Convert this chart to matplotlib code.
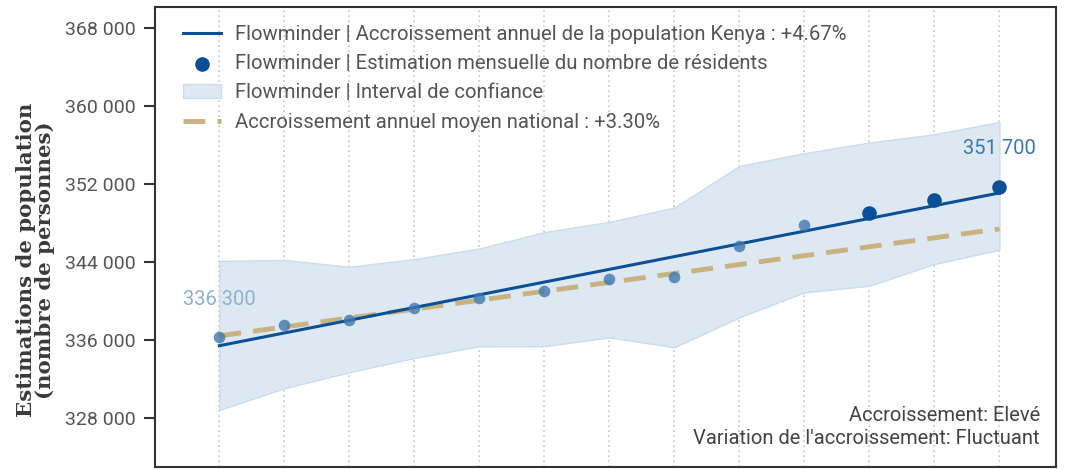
import matplotlib
matplotlib.use("Agg")
import matplotlib.pyplot as plt
from matplotlib.ticker import FuncFormatter

# Monthly resident estimates (13 months) and confidence interval
months = list(range(13))
estimates = [336300, 337560, 338080, 339270, 340270, 341010, 342240,
             342410, 345650, 347800, 348960, 350320, 351700]
ci_upper = [344100, 344200, 343500, 344290, 345380, 347050, 348100,
            349570, 353830, 355130, 356220, 357070, 358330]
ci_lower = [328840, 331060, 332700, 334160, 335360, 335370, 336270,
            335250, 338320, 340880, 341560, 343780, 345240]

# Fitted annual growth line (start / end) and national average line
trend_x = [0, 12]
trend_vals = [335420, 351060]
national_x = [0, 12]
national_vals = [336430, 347380]

y_ticks = [328000, 336000, 344000, 352000, 360000, 368000]

label_trend = "Flowminder | Accroissement annuel de la population Kenya : +4.67%"
label_points = "Flowminder | Estimation mensuelle du nombre de résidents"
label_ci = "Flowminder | Interval de confiance"
label_nat = "Accroissement annuel moyen national : +3.30%"

plt.rcParams['font.family'] = ['Roboto', 'DejaVu Sans']

fig = plt.figure(figsize=(10.67, 4.69), dpi=100)
ax = fig.add_axes([155 / 1067, 2 / 469, 901 / 1067, 460 / 469])

blue = "#0b4f96"
tan = "#c8b27f"
txt = "#555555"
fs_leg = 14.6
fs_tick = 14
fs_note = 14.5


def fmt(v):
    return f"{int(v):,}".replace(",", " ")


ax.fill_between(months, ci_lower, ci_upper, facecolor="#dde8f2",
                edgecolor="#cbdcec", linewidth=1, label=label_ci, zorder=1)
ax.plot(trend_x, trend_vals, color=blue, lw=2.2, label=label_trend, zorder=3)
ax.plot(national_x, national_vals, color=tan, lw=3.5, ls=(0, (4.5, 2.5)),
        label=label_nat, zorder=2)

recent = 3
ax.scatter(months[:-recent], estimates[:-recent], s=70, color="#3f78ae",
           alpha=0.8, zorder=4, linewidths=0)
ax.scatter(months[-recent:], estimates[-recent:], s=110, color=blue,
           zorder=4, linewidths=0)
ax.scatter([], [], s=90, color=blue, label=label_points)

ax.text(0, estimates[0] + 3900, fmt(estimates[0]), color="#8db0d2",
        fontsize=fs_tick + 0.5, ha="center", va="center")
ax.text(12, estimates[-1] + 3900, fmt(estimates[-1]), color="#3a78b0",
        fontsize=fs_tick + 0.5, ha="center", va="center")

ax.text(0.982, 0.111, "Accroissement: Elevé", transform=ax.transAxes,
        ha="right", va="center", fontsize=fs_note, color="#444444")
ax.text(0.982, 0.063, "Variation de l'accroissement: Fluctuant",
        transform=ax.transAxes, ha="right", va="center", fontsize=fs_note,
        color="#444444")

ax.set_xlim(-0.99, 12.87)
ax.set_ylim(323000, 370100)
ax.set_yticks(y_ticks)
ax.yaxis.set_major_formatter(FuncFormatter(lambda v, p: fmt(v)))
ax.set_xticks(months)
ax.tick_params(axis="x", length=0, labelbottom=False)
ax.tick_params(axis="y", length=8, width=1.5, color="#333333",
               labelsize=fs_tick, labelcolor=txt, pad=6)
ax.grid(axis="x", color="#c8c8c8", ls=(0, (1, 2)), lw=1.2)
ax.set_axisbelow(True)
for sp in ax.spines.values():
    sp.set_color("#333333")
    sp.set_linewidth(1.5)

ax.set_ylabel("Estimations de population\n(nombre de personnes)",
              family=["DejaVu Serif"], fontweight="bold", fontsize=15.3,
              color="#3a3a3a", linespacing=0.95)
ax.yaxis.set_label_coords(-0.111, 0.45)

handles, labels = ax.get_legend_handles_labels()
order = [label_trend, label_points, label_ci, label_nat]
hmap = dict(zip(labels, handles))
ax.legend([hmap[l] for l in order], order, loc="upper left",
          frameon=False, fontsize=fs_leg, labelcolor=txt,
          handlelength=1.9, handletextpad=0.7, labelspacing=0.51,
          borderaxespad=0, bbox_to_anchor=(0.0218, 0.979))

fig.savefig("out.png", dpi=100)
